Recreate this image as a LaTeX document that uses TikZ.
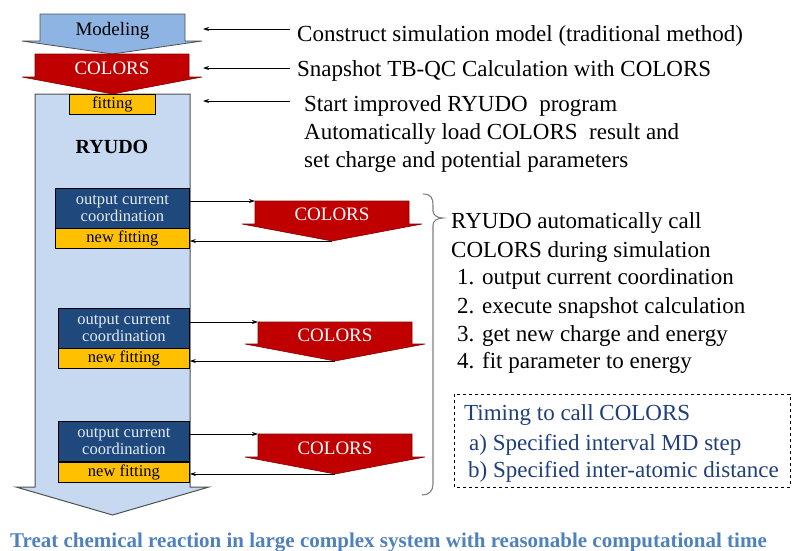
\documentclass[tikz,border=0pt]{standalone}
\usepackage{fontspec}
\setmainfont{Liberation Serif}
\usetikzlibrary{arrows.meta}
\definecolor{modblue}{HTML}{8EB4E3}
\definecolor{colred}{HTML}{C00000}
\definecolor{ryblue}{HTML}{C6D9F1}
\definecolor{fityel}{HTML}{FFC000}
\definecolor{dkblue}{HTML}{1F497D}
\definecolor{boxtxt}{HTML}{E2EAF4}
\definecolor{bottomblue}{HTML}{4F81BD}
\definecolor{timingblue}{HTML}{1F3F7A}
\definecolor{edgegrey}{HTML}{505050}
\tikzset{
  x=1pt, y=-1pt,
  conn/.style={draw=black, line width=0.8pt, -{Stealth[length=6pt,width=4pt]}},
  redarrow/.style={fill=colred, draw=colred!70!black, line width=0.6pt},
  txt/.style={inner sep=0pt, anchor=base west, font=\fontsize{23}{28}\selectfont, align=left},
  colortxt/.style={inner sep=0pt, text=white, font=\fontsize{19}{22}\selectfont},
  outbox/.style={draw=black, line width=0.8pt, fill=dkblue, text=boxtxt, inner sep=0pt,
    anchor=north west, minimum width=134pt, minimum height=40pt, align=center,
    font=\fontsize{16.5}{18}\selectfont},
  fitbox/.style={draw=black, line width=0.8pt, fill=fityel, inner sep=0pt,
    anchor=north west, minimum width=134pt, minimum height=20pt,
    font=\fontsize{16.5}{18}\selectfont},
}
\begin{document}
\begin{tikzpicture}
\useasboundingbox (0,0) rectangle (793,550);

% big RYUDO arrow
\draw[fill=ryblue, draw=edgegrey, line width=1pt]
  (35,94) -- (190,94) -- (190,487) -- (209,487) -- (112.5,515) -- (16,487) -- (35,487) -- cycle;
% Modeling arrow
\draw[fill=modblue, draw=edgegrey, line width=0.8pt]
  (40,14) -- (185,14) -- (185,41) -- (202,41) -- (112.5,54) -- (22,41) -- (40,41) -- cycle;
\node[inner sep=0pt, anchor=base, font=\fontsize{19}{22}\selectfont] (modtxt) at (112.5,35) {Modeling};
% COLORS arrow (top)
\draw[redarrow]
  (35,54) -- (189,54) -- (189,77) -- (202,77) -- (112.5,94) -- (22,77) -- (35,77) -- cycle;
\node[colortxt, anchor=base] (coltop) at (112,74) {COLORS};
% fitting
\node[draw=black, line width=0.8pt, fill=fityel, inner sep=0pt, minimum width=86pt,
  minimum height=20pt, anchor=north west, font=\fontsize{16.5}{18}\selectfont] (fit0) at (69,94) {fitting};
\node[inner sep=0pt, anchor=base, font=\bfseries\fontsize{20}{24}\selectfont] (ryudo) at (112,153) {RYUDO};

% right top texts
\node[txt] (t1) at (297,41) {Construct simulation model (traditional method)};
\node[txt] (t2) at (297,76) {Snapshot TB-QC Calculation with COLORS};
\node[txt, anchor=north west] (t3) at (304,95) {Start improved RYUDO\ \ program\\Automatically load COLORS\ \ result and\\set charge and potential parameters};
\coordinate (s1) at (290,29); \coordinate (e1) at (203,29);
\coordinate (s2) at (290,68); \coordinate (e2) at (203,68);
\coordinate (s3) at (290,101); \coordinate (e3) at (203,101);
\draw[conn] (s1) -- (e1);
\draw[conn] (s2) -- (e2);
\draw[conn] (s3) -- (e3);

% blocks
\node[outbox] (ob1) at (55,188) {output current\\[-1pt]coordination};
\node[fitbox] (nf1) at (55,228) {new fitting};
\node[outbox, minimum width=131pt] (ob2) at (58,308) {output current\\[-1pt]coordination};
\node[fitbox, minimum width=131pt] (nf2) at (58,348) {new fitting};
\node[outbox, minimum width=131pt] (ob3) at (58,421) {output current\\[-1pt]coordination};
\node[fitbox, minimum width=131pt] (nf3) at (58,462) {new fitting};

% red COLORS arrows
\draw[redarrow] (255,201) coordinate (c1tl) -- (409,201) -- (409,224) -- (422,224) -- (332,241) coordinate (c1tip) -- (242,224) -- (255,224) -- cycle;
\node[colortxt, anchor=base] (c1) at (332,220) {COLORS};
\draw[redarrow] (258,322) coordinate (c2tl) -- (412,322) -- (412,344) -- (425,344) -- (335,361) coordinate (c2tip) -- (245,344) -- (258,344) -- cycle;
\node[colortxt, anchor=base] (c2) at (335,341) {COLORS};
\draw[redarrow] (258,434) coordinate (c3tl) -- (412,434) -- (412,457) -- (425,457) -- (335,474) coordinate (c3tip) -- (245,457) -- (258,457) -- cycle;
\node[colortxt, anchor=base] (c3) at (335,454) {COLORS};

\draw[conn] (ob1.east |- c1tl) -- (c1tl);
\draw[conn] (c1tip) -- (nf1.east |- c1tip);
\draw[conn] (ob2.east |- c2tl) -- (c2tl);
\draw[conn] (c2tip) -- (nf2.east |- c2tip);
\draw[conn] (ob3.east |- c3tl) -- (c3tl);
\draw[conn] (c3tip) -- (nf3.east |- c3tip);

% brace
\draw[draw=gray, line width=1.1pt]
  (423,194) .. controls (431,194) and (433,198) .. (433,205) -- (433,211)
  .. controls (433,215) and (437,218) .. (443,218)
  .. controls (437,218) and (433,221) .. (433,225) -- (433,484)
  .. controls (433,491) and (429,495) .. (422,495);

\node[txt] (r1) at (451,228) {RYUDO automatically call};
\node[txt] (r2) at (451,257) {COLORS during simulation};
\node[txt] (r3) at (457,284) {1. output current coordination};
\node[txt] (r4) at (457,313) {2. execute snapshot calculation};
\node[txt] (r5) at (457,341) {3. get new charge and energy};
\node[txt] (r6) at (457,368) {4. fit parameter to energy};

% dashed box
\draw[dashed, line width=0.8pt] (454,394) rectangle (790,487);
\node[txt, text=timingblue] (tm1) at (464,420) {Timing to call COLORS};
\node[txt, text=timingblue] (tm2) at (469,450) {a) Specified interval MD step};
\node[txt, text=timingblue] (tm3) at (468,477) {b) Specified inter-atomic distance};

% bottom text
\node[inner sep=0pt, anchor=base west, text=bottomblue, font=\bfseries\fontsize{21}{24}\selectfont] (bottom) at (10,547) {Treat chemical reaction in large complex system with reasonable computational time};
\end{tikzpicture}
\end{document}
